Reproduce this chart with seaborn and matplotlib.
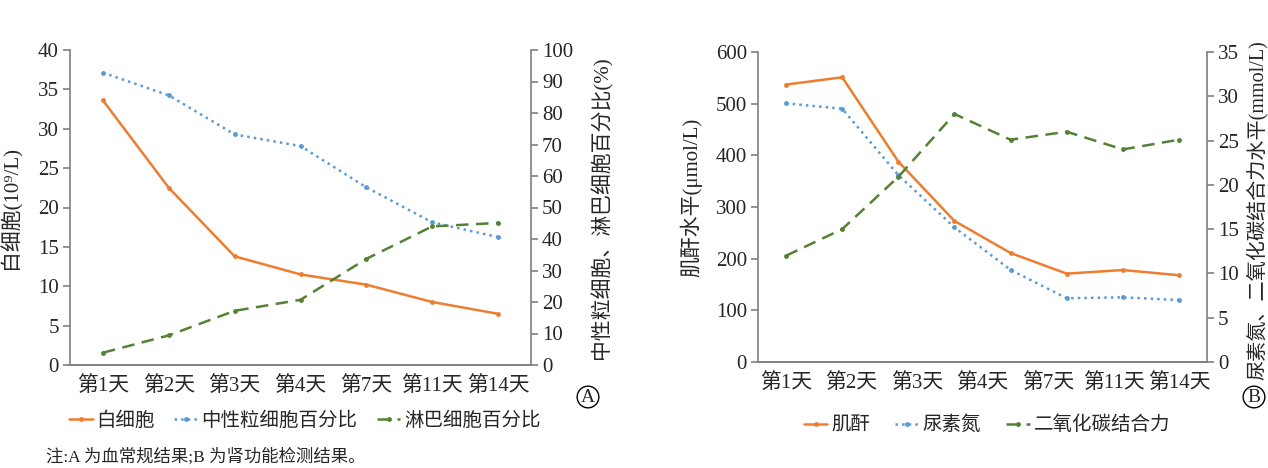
import numpy as np
import seaborn as sns
import matplotlib.pyplot as plt

# panel A: blood routine
days = ["第1天", "第2天", "第3天", "第4天", "第7天", "第11天", "第14天"]
wbc = [33.6, 22.5, 13.8, 11.5, 10.2, 8.0, 6.5]
neut_pct = [92.8, 85.6, 73.2, 69.5, 56.4, 45.3, 40.6]
lymph_pct = [3.9, 9.4, 17.2, 20.7, 33.7, 44.0, 45.1]
legend_a = ["白细胞", "中性粒细胞百分比", "淋巴细胞百分比"]

# panel B: renal function (8 points drawn under the 7 day labels)
creatinine = [537, 551, 388, 273, 211, 171, 178, 168]
bun = [29.2, 28.6, 21.1, 15.2, 10.4, 7.2, 7.3, 7.0]
co2cp = [12.0, 15.0, 20.9, 28.0, 25.1, 26.0, 24.0, 25.1]
legend_b = ["肌酐", "尿素氮", "二氧化碳结合力"]

ORANGE = "#ED7D31"
BLUE = "#5B9BD5"
GREEN = "#548235"
SPINE = "#7f7f7f"

sns.set_theme(style="ticks")
plt.rcParams["font.family"] = ["Liberation Serif", "Noto Sans CJK SC", "DejaVu Sans"]

fig = plt.figure(figsize=(12.68, 4.68), dpi=100)
W, H = 1268, 468


def axes_px(left, right, top, bottom):
    return fig.add_axes([left / W, 1 - bottom / H, (right - left) / W, (bottom - top) / H])


def style_axes(ax, ax2):
    for a in (ax, ax2):
        a.spines["top"].set_visible(False)
        for s in ("left", "right", "bottom"):
            a.spines[s].set_color(SPINE)
            a.spines[s].set_linewidth(1.2)
        a.tick_params(axis="y", direction="out", length=5, width=1.2, color=SPINE,
                      labelsize=15, pad=3)
        a.tick_params(axis="x", length=0, labelsize=15, pad=8)
    ax.spines["right"].set_visible(False)
    ax2.spines["left"].set_visible(False)
    ax.grid(False)
    ax2.grid(False)


def draw(ax, x, y, color, ls, dashes=None):
    sns.lineplot(x=x, y=y, ax=ax, color=color, linestyle=ls, linewidth=1.8,
                 marker="o", markersize=3.5, markeredgewidth=0)
    line = ax.get_lines()[-1]
    if dashes is not None:
        line.set_dashes(dashes)
    return line


# ---- panel A ----
axA = axes_px(70, 531, 50, 365)
axA2 = axA.twinx()
xa = np.arange(len(days))
la1 = draw(axA, xa, wbc, ORANGE, "-")
la2 = draw(axA2, xa, neut_pct, BLUE, ":")
la3 = draw(axA2, xa, lymph_pct, GREEN, "--", (5, 3))
axA.set_xlim(-0.5, len(days) - 0.5)
axA.set_ylim(0, 40)
axA.set_yticks(np.arange(0, 41, 5))
axA2.set_ylim(0, 100)
axA2.set_yticks(np.arange(0, 101, 10))
axA.set_xticks(xa)
axA.set_xticklabels(days)
axA.set_ylabel("白细胞(10⁹/L)", fontsize=15)
axA.yaxis.set_label_coords(-0.105, 0.5)
axA2.set_ylabel("中性粒细胞、淋巴细胞百分比(%)", fontsize=15, rotation=90)
axA2.yaxis.set_label_coords(1.128, 0.5)
style_axes(axA, axA2)

# ---- panel B ----
axB = axes_px(758, 1207, 52, 362)
axB2 = axB.twinx()
xb = np.arange(len(creatinine))
lb1 = draw(axB, xb, creatinine, ORANGE, "-")
lb2 = draw(axB2, xb, bun, BLUE, ":")
lb3 = draw(axB2, xb, co2cp, GREEN, "--", (5, 3))
axB.set_xlim(-0.5, len(creatinine) - 0.5)
axB.set_ylim(0, 600)
axB.set_yticks(np.arange(0, 601, 100))
axB2.set_ylim(0, 35)
axB2.set_yticks(np.arange(0, 36, 5))
axB.set_xticks(np.linspace(0, len(creatinine) - 1, len(days)))
axB.set_xticklabels(days)
axB.set_ylabel("肌酐水平(μmol/L)", fontsize=15)
axB.yaxis.set_label_coords(-0.125, 0.53)
axB2.set_ylabel("尿素氮、二氧化碳结合力水平(mmol/L)", fontsize=14.5, rotation=90)
axB2.yaxis.set_label_coords(1.088, 0.49)
style_axes(axB, axB2)

# legends
leg_kw = dict(loc="center", ncol=3, frameon=False, fontsize=14, handlelength=1.2,
              handletextpad=0.2, columnspacing=1.0, borderaxespad=0)
fig.legend([la1, la2, la3], legend_a, bbox_to_anchor=(305 / W, 1 - 421 / H), **leg_kw)
fig.legend([lb1, lb2, lb3], legend_b, bbox_to_anchor=(987 / W, 1 - 425 / H),
           **{**leg_kw, "columnspacing": 1.3})

# panel tags
circ = dict(boxstyle="circle,pad=0.12", fc="none", ec="black", lw=1.0)
fig.text(588 / W, 1 - 397 / H, "A", fontsize=14, ha="center", va="center", bbox=circ)
fig.text(1254 / W, 1 - 397 / H, "B", fontsize=14, ha="center", va="center", bbox=circ)

fig.text(46 / W, 1 - 457 / H, "注:A 为血常规结果;B 为肾功能检测结果。", fontsize=12.5,
         ha="left", va="center")

fig.savefig("out.png", dpi=100)
